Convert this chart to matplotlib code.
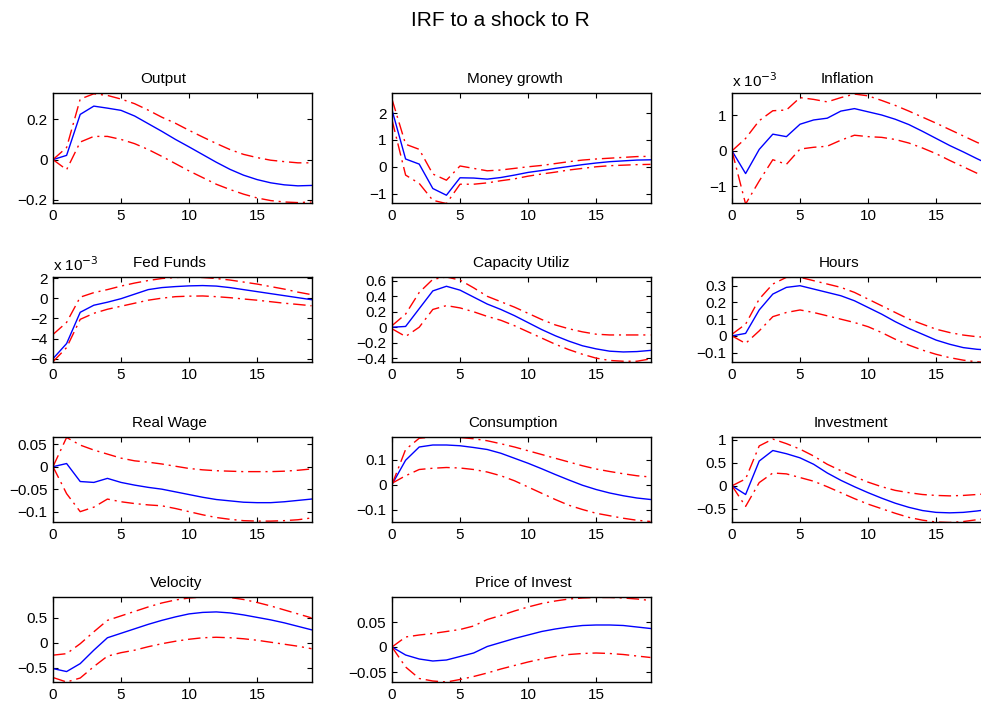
import matplotlib
matplotlib.use('Agg')
import matplotlib.pyplot as plt
from matplotlib.ticker import FuncFormatter

plt.rcParams['font.family'] = ['Liberation Sans', 'DejaVu Sans']

horizon = list(range(20))

# impulse responses: (median, upper band, lower band)
output_mid = [0, 0.021, 0.224, 0.265, 0.255, 0.244, 0.216, 0.178, 0.14, 0.1,
              0.063, 0.025, -0.013, -0.048, -0.077, -0.099, -0.115, -0.125, -0.13, -0.128]
output_hi = [0, 0.06, 0.30, 0.326, 0.318, 0.30, 0.277, 0.245, 0.21, 0.18,
             0.145, 0.112, 0.08, 0.05, 0.026, 0.01, -0.003, -0.01, -0.016, -0.016]
output_lo = [0, -0.05, 0.087, 0.115, 0.115, 0.1, 0.079, 0.05, 0.016, -0.02,
             -0.056, -0.089, -0.122, -0.148, -0.171, -0.19, -0.203, -0.21, -0.213, -0.21]

money_mid = [2.12, 0.29, 0.1, -0.81, -1.06, -0.41, -0.42, -0.46, -0.4, -0.31,
             -0.21, -0.14, -0.06, 0.01, 0.08, 0.14, 0.19, 0.22, 0.25, 0.26]
money_hi = [2.52, 0.84, 0.65, -0.27, -0.5, 0.03, -0.06, -0.15, -0.12, -0.06,
            0.0, 0.05, 0.12, 0.19, 0.25, 0.29, 0.32, 0.35, 0.38, 0.39]
money_lo = [1.75, -0.31, -0.62, -1.25, -1.37, -0.65, -0.65, -0.6, -0.52, -0.45,
            -0.35, -0.27, -0.2, -0.12, -0.06, 0.0, 0.04, 0.06, 0.08, 0.09]

# inflation and fed funds in units of 1e-3
infl_mid = [0, -0.64, 0.04, 0.47, 0.4, 0.75, 0.87, 0.92, 1.12, 1.19,
            1.1, 1.01, 0.89, 0.74, 0.55, 0.35, 0.15, -0.03, -0.22, -0.4]
infl_hi = [0, 0.35, 0.85, 1.13, 1.15, 1.5, 1.45, 1.38, 1.5, 1.6,
           1.55, 1.42, 1.28, 1.12, 0.95, 0.78, 0.6, 0.42, 0.24, 0.08]
infl_lo = [0, -1.5, -0.85, -0.25, -0.38, 0.05, 0.1, 0.13, 0.3, 0.44,
           0.4, 0.38, 0.32, 0.22, 0.08, -0.08, -0.27, -0.45, -0.63, -0.8]

ff_mid = [-6.0, -4.5, -1.4, -0.7, -0.4, -0.05, 0.4, 0.85, 1.05, 1.15,
          1.22, 1.25, 1.2, 1.05, 0.85, 0.65, 0.45, 0.25, 0.05, -0.15]
ff_hi = [-3.6, -2.4, 0.1, 0.55, 0.85, 1.2, 1.5, 1.75, 1.95, 2.05,
         2.1, 2.05, 1.95, 1.8, 1.6, 1.4, 1.15, 0.9, 0.6, 0.35]
ff_lo = [-6.3, -4.9, -2.1, -1.5, -1.1, -0.8, -0.5, -0.2, 0.0, 0.15,
         0.2, 0.22, 0.15, 0.05, -0.08, -0.2, -0.35, -0.5, -0.62, -0.75]

cu_mid = [0, 0.01, 0.24, 0.47, 0.53, 0.48, 0.39, 0.3, 0.23, 0.15,
          0.06, -0.03, -0.11, -0.18, -0.24, -0.28, -0.31, -0.32, -0.315, -0.3]
cu_hi = [0.02, 0.17, 0.45, 0.62, 0.65, 0.61, 0.51, 0.4, 0.33, 0.26,
         0.18, 0.1, 0.03, -0.02, -0.06, -0.09, -0.1, -0.1, -0.1, -0.1]
cu_lo = [-0.02, -0.12, 0.0, 0.23, 0.28, 0.25, 0.2, 0.14, 0.09, 0.02,
         -0.06, -0.14, -0.22, -0.29, -0.35, -0.4, -0.43, -0.44, -0.44, -0.41]

hours_mid = [0, 0.015, 0.155, 0.25, 0.29, 0.3, 0.28, 0.26, 0.24, 0.21,
             0.17, 0.13, 0.085, 0.045, 0.01, -0.025, -0.05, -0.07, -0.08, -0.085]
hours_hi = [0.01, 0.07, 0.22, 0.31, 0.35, 0.35, 0.33, 0.31, 0.29, 0.26,
            0.22, 0.18, 0.14, 0.1, 0.07, 0.04, 0.02, 0.005, -0.005, -0.01]
hours_lo = [0, -0.045, 0.03, 0.115, 0.14, 0.155, 0.14, 0.12, 0.1, 0.08,
            0.055, 0.02, -0.02, -0.055, -0.085, -0.11, -0.13, -0.145, -0.155, -0.16]

wage_mid = [0, 0.007, -0.033, -0.035, -0.026, -0.035, -0.041, -0.046, -0.05, -0.056,
            -0.062, -0.068, -0.073, -0.076, -0.079, -0.08, -0.08, -0.078, -0.075, -0.072]
wage_hi = [0, 0.065, 0.048, 0.037, 0.028, 0.019, 0.013, 0.01, 0.006, 0.001,
           -0.004, -0.007, -0.009, -0.01, -0.011, -0.011, -0.011, -0.01, -0.008, -0.005]
wage_lo = [0, -0.06, -0.1, -0.09, -0.072, -0.078, -0.082, -0.085, -0.087, -0.093,
           -0.1, -0.107, -0.113, -0.117, -0.12, -0.121, -0.121, -0.12, -0.118, -0.114]

cons_mid = [0, 0.097, 0.15, 0.158, 0.158, 0.155, 0.148, 0.14, 0.125, 0.105,
            0.085, 0.063, 0.04, 0.018, -0.003, -0.02, -0.034, -0.045, -0.054, -0.06]
cons_hi = [0, 0.14, 0.185, 0.19, 0.19, 0.188, 0.183, 0.175, 0.163, 0.15,
           0.135, 0.12, 0.105, 0.09, 0.075, 0.062, 0.052, 0.043, 0.035, 0.03]
cons_lo = [0.005, 0.035, 0.06, 0.065, 0.068, 0.066, 0.06, 0.05, 0.035, 0.015,
           -0.01, -0.035, -0.06, -0.083, -0.1, -0.115, -0.125, -0.135, -0.143, -0.148]

inv_mid = [0, -0.19, 0.54, 0.77, 0.7, 0.61, 0.47, 0.28, 0.12, -0.02,
           -0.15, -0.27, -0.38, -0.47, -0.54, -0.58, -0.59, -0.58, -0.55, -0.51]
inv_hi = [0, 0.15, 0.87, 1.02, 0.92, 0.8, 0.65, 0.47, 0.33, 0.2,
          0.08, -0.02, -0.1, -0.15, -0.19, -0.21, -0.22, -0.21, -0.19, -0.17]
inv_lo = [0, -0.45, 0.07, 0.28, 0.26, 0.18, 0.1, -0.02, -0.15, -0.28,
          -0.4, -0.5, -0.6, -0.69, -0.75, -0.79, -0.8, -0.78, -0.74, -0.7]

vel_mid = [-0.52, -0.58, -0.42, -0.15, 0.1, 0.19, 0.28, 0.37, 0.45, 0.52,
           0.58, 0.61, 0.62, 0.6, 0.56, 0.51, 0.46, 0.4, 0.33, 0.26]
vel_hi = [-0.25, -0.22, -0.02, 0.22, 0.45, 0.54, 0.63, 0.72, 0.8, 0.86,
          0.9, 0.92, 0.93, 0.91, 0.87, 0.81, 0.74, 0.66, 0.58, 0.5]
vel_lo = [-0.7, -0.79, -0.71, -0.48, -0.27, -0.2, -0.15, -0.08, -0.02, 0.03,
          0.07, 0.1, 0.11, 0.1, 0.08, 0.05, 0.01, -0.03, -0.07, -0.12]

pinv_mid = [0, -0.016, -0.024, -0.028, -0.026, -0.019, -0.012, 0.001, 0.009, 0.017,
            0.024, 0.031, 0.036, 0.04, 0.043, 0.044, 0.044, 0.043, 0.04, 0.037]
pinv_hi = [0, 0.02, 0.024, 0.027, 0.031, 0.035, 0.042, 0.055, 0.063, 0.072,
           0.08, 0.087, 0.092, 0.096, 0.098, 0.099, 0.099, 0.098, 0.096, 0.093]
pinv_lo = [0, -0.04, -0.063, -0.068, -0.07, -0.065, -0.059, -0.052, -0.044, -0.037,
           -0.03, -0.024, -0.019, -0.015, -0.013, -0.012, -0.013, -0.015, -0.018, -0.021]

titles = ['Output', 'Money growth', 'Inflation', 'Fed Funds', 'Capacity Utiliz',
          'Hours', 'Real Wage', 'Consumption', 'Investment', 'Velocity', 'Price of Invest']
series = [(output_mid, output_hi, output_lo), (money_mid, money_hi, money_lo),
          (infl_mid, infl_hi, infl_lo), (ff_mid, ff_hi, ff_lo),
          (cu_mid, cu_hi, cu_lo), (hours_mid, hours_hi, hours_lo),
          (wage_mid, wage_hi, wage_lo), (cons_mid, cons_hi, cons_lo),
          (inv_mid, inv_hi, inv_lo), (vel_mid, vel_hi, vel_lo),
          (pinv_mid, pinv_hi, pinv_lo)]
scaled = [False, False, True, True, False, False, False, False, False, False, False]
ylims = [(-0.215, 0.33), (-1.35, 2.75), (-1.47, 1.63), (-6.33, 2.1), (-0.45, 0.65),
         (-0.156, 0.352), (-0.123, 0.066), (-0.15, 0.19), (-0.79, 1.065),
         (-0.79, 0.92), (-0.07, 0.1)]
yticks = [[-0.2, 0, 0.2], [-1, 0, 1, 2], [-1, 0, 1], [-6, -4, -2, 0, 2],
          [-0.4, -0.2, 0, 0.2, 0.4, 0.6], [-0.1, 0, 0.1, 0.2, 0.3],
          [-0.1, -0.05, 0, 0.05], [-0.1, 0, 0.1], [-0.5, 0, 0.5, 1],
          [-0.5, 0, 0.5], [-0.05, 0, 0.05]]
# title horizontal position within each axes (as in the original export)
title_x = [0.425, 0.475, 0.448, 0.449, 0.50, 0.415, 0.45, 0.467, 0.458, 0.475, 0.507]

W, H = 981, 703
fig = plt.figure(figsize=(W / 100, H / 100), dpi=100)
fig.text(500 / W, 1 - 21 / H, 'IRF to a shock to R', ha='center', va='center', fontsize=15)

rows = [(93, 203), (277, 362), (437, 522), (597, 682)]
cols = [53, 392, 732]
axw = 258.5


def fmt(v, pos):
    s = ('%g' % v).replace('-', '\u2212')
    return s


for i, name in enumerate(titles):
    top, bot = rows[i // 3]
    left = cols[i % 3]
    ax = fig.add_axes([left / W, 1 - bot / H, axw / W, (bot - top) / H])
    mid, hi, lo = series[i]
    k = 1e-3 if scaled[i] else 1.0
    ax.plot(horizon, [v * k for v in mid], color='b', linewidth=1.0)
    for band in (hi, lo):
        ax.plot(horizon, [v * k for v in band], color='r', linewidth=1.0,
                linestyle=(0, (9, 3.5, 1.5, 3.5)))
    ax.set_xlim(0, 19)
    ax.set_ylim(ylims[i][0] * k, ylims[i][1] * k)
    ax.set_xticks([0, 5, 10, 15])
    ax.set_yticks([t * k for t in yticks[i]])
    if scaled[i]:
        ax.yaxis.set_major_formatter(FuncFormatter(lambda v, p: fmt(round(v * 1e3, 6), p)))
        ax.text(0, 1.03, 'x 10$^{\u22123}$', transform=ax.transAxes,
                ha='left', va='bottom', fontsize=11)
    else:
        ax.yaxis.set_major_formatter(FuncFormatter(lambda v, p: fmt(round(v, 6), p)))
    ax.tick_params(direction='in', length=3.5, width=0.8, labelsize=11,
                   top=True, right=True, pad=4)
    for sp in ax.spines.values():
        sp.set_linewidth(1.0)
    ax.set_title(name, x=title_x[i], fontsize=11, pad=7)

fig.savefig('out.png', dpi=100)
